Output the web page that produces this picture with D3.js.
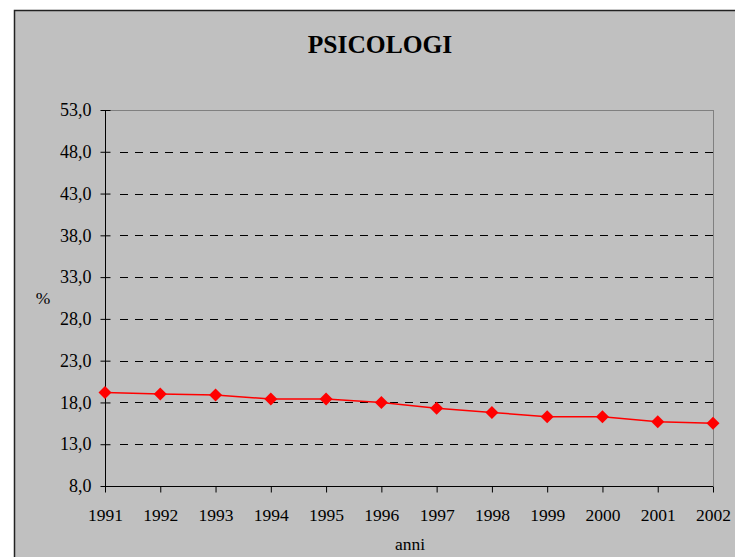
<!DOCTYPE html>
<meta charset="utf-8">
<head>
<style>
  body { margin: 0; background: #fff; }
  .grid line { stroke: #000; stroke-dasharray: 8,7; stroke-dashoffset: -7; }
</style>
</head>
<body>
<svg width="735" height="557"></svg>
<script src="https://cdn.jsdelivr.net/npm/d3@7"></script>
<script>
// dati
var anni = ["1991","1992","1993","1994","1995","1996","1997","1998","1999","2000","2001","2002"];
var valori = [19.2, 19.0, 18.9, 18.4, 18.4, 18.0, 17.3, 16.8, 16.3, 16.3, 15.7, 15.5];
var yTicks = [8, 13, 18, 23, 28, 33, 38, 43, 48, 53];

var serif = "'Liberation Serif', 'Times New Roman', Times, serif";
var svg = d3.select("svg");

// area grafico (sfondo grigio)
svg.append("rect")
    .attr("x", 14.5).attr("y", 10.5)
    .attr("width", 740).attr("height", 560)
    .attr("fill", "#c0c0c0")
    .attr("stroke", "#222")
    .attr("stroke-width", 1.5);

var x = d3.scalePoint().domain(anni).range([105, 713]);
var y = d3.scaleLinear().domain([8, 53]).range([486, 110]);

// griglia tratteggiata
svg.append("g").attr("class", "grid")
  .selectAll("line")
  .data(yTicks.filter(function(d) { return d > 8 && d < 53; }))
  .enter().append("line")
    .attr("x1", 113).attr("x2", 713)
    .attr("y1", function(d) { return Math.round(y(d)) + 0.5; })
    .attr("y2", function(d) { return Math.round(y(d)) + 0.5; });

// bordo superiore e destro
svg.append("line")
    .attr("x1", 105).attr("x2", 713.5)
    .attr("y1", y(53) + 0.5).attr("y2", y(53) + 0.5)
    .attr("stroke", "#808080");
svg.append("line")
    .attr("x1", 713.5).attr("x2", 713.5)
    .attr("y1", y(53)).attr("y2", y(8))
    .attr("stroke", "#808080");

// asse y
var yAxis = svg.append("g")
    .attr("transform", "translate(105.5,0)")
    .call(d3.axisLeft(y).tickValues(yTicks)
      .tickFormat(function(d) { return d3.format(".1f")(d).replace(".", ","); })
      .tickSize(5).tickPadding(9));
yAxis.selectAll(".tick line").attr("x2", 5).attr("x1", -5);
yAxis.select(".domain").attr("d", "M0," + y(53) + "V" + y(8));
yAxis.selectAll("text")
    .style("font-family", serif)
    .style("font-size", "18px");

// asse x
var xAxis = svg.append("g")
    .attr("transform", "translate(0," + (y(8) + 0.5) + ")")
    .call(d3.axisBottom(x).tickSize(6).tickPadding(16));
xAxis.select(".domain").attr("d", "M105,0H713");
xAxis.selectAll("text")
    .style("font-family", serif)
    .style("font-size", "17.5px");

// linea
svg.append("path")
    .datum(valori)
    .attr("fill", "none")
    .attr("stroke", "#ff0000")
    .attr("stroke-width", 1.5)
    .attr("d", d3.line()
      .x(function(d, i) { return x(anni[i]); })
      .y(function(d) { return y(d); }));

// marcatori a rombo
svg.selectAll(".punto")
    .data(valori)
    .enter().append("path")
    .attr("class", "punto")
    .attr("fill", "#ff0000")
    .attr("transform", function(d, i) { return "translate(" + x(anni[i]) + "," + y(d) + ")"; })
    .attr("d", "M0,-6.5L6.5,0L0,6.5L-6.5,0Z");

// titoli
svg.append("text")
    .attr("x", 380).attr("y", 53)
    .attr("text-anchor", "middle")
    .style("font-family", serif)
    .style("font-size", "25.5px")
    .style("font-weight", "bold")
    .text("PSICOLOGI");

svg.append("text")
    .attr("x", 43).attr("y", 304)
    .attr("text-anchor", "middle")
    .style("font-family", serif)
    .style("font-size", "17.5px")
    .text("%");

svg.append("text")
    .attr("x", 410).attr("y", 550)
    .attr("text-anchor", "middle")
    .style("font-family", serif)
    .style("font-size", "17.5px")
    .text("anni");
</script>
</body>
